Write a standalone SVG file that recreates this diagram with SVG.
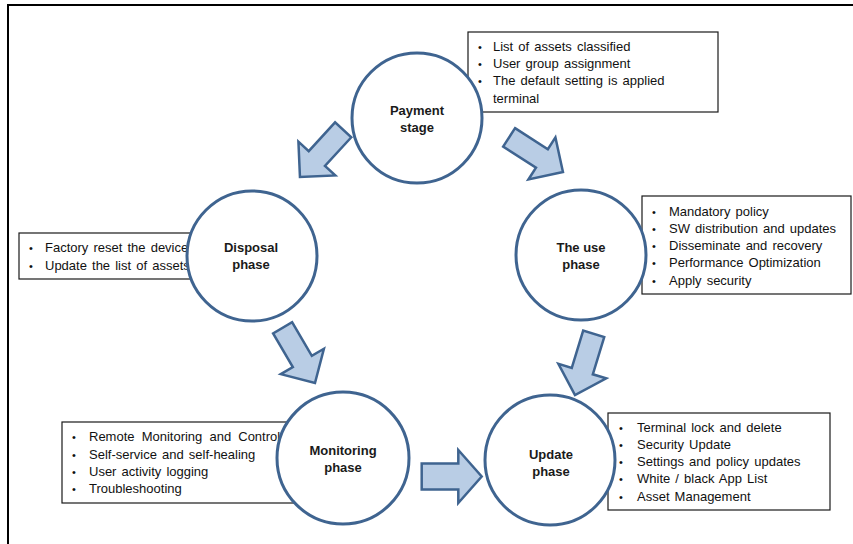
<svg xmlns="http://www.w3.org/2000/svg" xmlns:xlink="http://www.w3.org/1999/xlink" width="853" height="544" viewBox="0 0 853 544">
<style>
.frame{fill:none;stroke:#000;stroke-width:2}
.box{fill:#fff;stroke:#1a1a1a;stroke-width:1.2}
.node{fill:#fff;stroke:#3f6490;stroke-width:3}
.arrow{fill:#b9cde5;stroke:#3f6490;stroke-width:2.5;stroke-linejoin:miter}
.lbl{font-family:"Liberation Sans",Arial,sans-serif;font-size:13px;font-weight:bold;fill:#1a1a1a;text-anchor:middle}
.item{font-family:"Liberation Sans",Arial,sans-serif;font-size:13px;fill:#111;word-spacing:1.5px}
.bul{font-family:"Liberation Sans",Arial,sans-serif;font-size:11px;fill:#111;text-anchor:middle}
</style>
<defs>
<polygon id="darrow" points="0,-11 39,-11 39,-25 64,0 39,25 39,11 0,11"/>
</defs>
<rect width="853" height="544" fill="#fff"/>
<path class="frame" d="M8,544 V5 H853"/>
<g id="connectors">
<use xlink:href="#darrow" class="arrow" transform="translate(343.2,129.8) rotate(132.5)"/>
<use xlink:href="#darrow" class="arrow" transform="translate(509.1,137.4) rotate(32.7)"/>
<use xlink:href="#darrow" class="arrow" transform="translate(282.6,327.8) rotate(59.6)"/>
<use xlink:href="#darrow" class="arrow" transform="translate(593.7,333.8) rotate(107)"/>
<polygon class="arrow" points="421.7,463.5 458.3,463.5 458.3,450 481.7,476.5 458.3,503 458.3,489.5 421.7,489.5"/>
</g>
<g id="payment">
<rect class="box" x="468" y="32" width="250" height="80"/>
<text class="bul" x="480" y="50.5">•</text>
<text class="bul" x="480" y="67.8">•</text>
<text class="bul" x="480" y="85.2">•</text>
<text class="item" x="493" y="50.5">List of assets classified</text>
<text class="item" x="493" y="67.8">User group assignment</text>
<text class="item" x="493" y="85.2">The default setting is applied</text>
<text class="item" x="493" y="102.5">terminal</text>
<circle class="node" cx="417" cy="118" r="65"/>
<text class="lbl" x="417" y="115">Payment</text>
<text class="lbl" x="417" y="132">stage</text>
</g>
<g id="disposal">
<rect class="box" x="19" y="233" width="181" height="46"/>
<text class="bul" x="31" y="252.2">•</text>
<text class="bul" x="31" y="269.5">•</text>
<text class="item" x="45" y="252.2">Factory reset the device</text>
<text class="item" x="45" y="269.5">Update the list of assets</text>
<circle class="node" cx="252" cy="256" r="65"/>
<text class="lbl" x="251" y="252">Disposal</text>
<text class="lbl" x="251" y="269">phase</text>
</g>
<g id="use">
<rect class="box" x="642" y="196" width="209" height="98"/>
<text class="bul" x="654" y="215.5">•</text>
<text class="bul" x="654" y="232.8">•</text>
<text class="bul" x="654" y="250.1">•</text>
<text class="bul" x="654" y="267.4">•</text>
<text class="bul" x="654" y="284.7">•</text>
<text class="item" x="669" y="215.5">Mandatory policy</text>
<text class="item" x="669" y="232.8">SW distribution and updates</text>
<text class="item" x="669" y="250.1">Disseminate and recovery</text>
<text class="item" x="669" y="267.4">Performance Optimization</text>
<text class="item" x="669" y="284.7">Apply security</text>
<circle class="node" cx="581" cy="255" r="65"/>
<text class="lbl" x="581" y="251.5">The use</text>
<text class="lbl" x="581" y="268.5">phase</text>
</g>
<g id="monitoring">
<rect class="box" x="62" y="422" width="238" height="81"/>
<text class="bul" x="74" y="441.2">•</text>
<text class="bul" x="74" y="458.5">•</text>
<text class="bul" x="74" y="475.8">•</text>
<text class="bul" x="74" y="493.1">•</text>
<text class="item" x="89" y="441.2" style="word-spacing:3.5px">Remote Monitoring and Control</text>
<text class="item" x="89" y="458.5">Self-service and self-healing</text>
<text class="item" x="89" y="475.8">User activity logging</text>
<text class="item" x="89" y="493.1">Troubleshooting</text>
<circle class="node" cx="343" cy="458" r="66"/>
<text class="lbl" x="343" y="454.5">Monitoring</text>
<text class="lbl" x="343" y="472">phase</text>
</g>
<g id="update">
<rect class="box" x="608" y="413" width="222" height="97"/>
<text class="bul" x="621" y="431.5">•</text>
<text class="bul" x="621" y="448.8">•</text>
<text class="bul" x="621" y="466.1">•</text>
<text class="bul" x="621" y="483.4">•</text>
<text class="bul" x="621" y="500.7">•</text>
<text class="item" x="637" y="431.5">Terminal lock and delete</text>
<text class="item" x="637" y="448.8">Security Update</text>
<text class="item" x="637" y="466.1">Settings and policy updates</text>
<text class="item" x="637" y="483.4">White / black App List</text>
<text class="item" x="637" y="500.7">Asset Management</text>
<circle class="node" cx="550" cy="460" r="65"/>
<text class="lbl" x="551" y="458.5">Update</text>
<text class="lbl" x="551" y="476">phase</text>
</g>
</svg>
